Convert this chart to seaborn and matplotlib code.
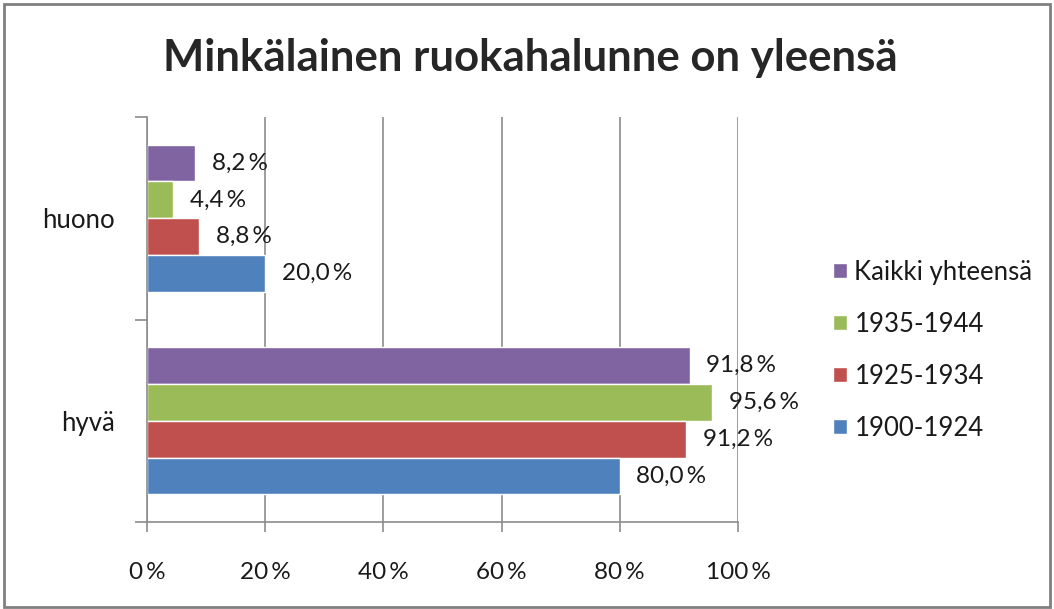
import matplotlib
matplotlib.use("Agg")
import matplotlib.pyplot as plt
import seaborn as sns
import pandas as pd
from matplotlib.patches import Rectangle
from matplotlib.ticker import FixedLocator, FuncFormatter

categories = ["huono", "hyvä"]
series = ["Kaikki yhteensä", "1935-1944", "1925-1934", "1900-1924"]
kaikki = [8.2, 91.8]
s1935_1944 = [4.4, 95.6]
s1925_1934 = [8.8, 91.2]
s1900_1924 = [20.0, 80.0]
colors = ["#8064A2", "#9BBB59", "#C0504D", "#4F81BD"]
x_ticks = [0, 20, 40, 60, 80, 100]

values = [kaikki, s1935_1944, s1925_1934, s1900_1924]
rows = []
for name, vals in zip(series, values):
    for cat, v in zip(categories, vals):
        rows.append({"cat": cat, "series": name, "val": v})
df = pd.DataFrame(rows)

sns.set_style("white")
plt.rcParams["font.family"] = ["Lato", "DejaVu Sans"]

fig = plt.figure(figsize=(10.54, 6.09), dpi=100)
ax = fig.add_axes([147/1054, 1-522/609, (738-147)/1054, (522-117)/609])

sns.barplot(data=df, y="cat", x="val", hue="series", order=categories,
            hue_order=series, palette=colors, orient="y", width=0.726,
            saturation=1, ax=ax, legend=True, errorbar=None)

for cont, vals in zip(ax.containers, values):
    labs = [f"{v:.1f}\u2009%".replace(".", ",") for v in vals]
    ax.bar_label(cont, labels=labs, padding=12, fontsize=17.5, color="#1a1a1a")

ax.set_xlim(0, 100)
ax.set_ylim(1.5, -0.5)
ax.set_xticks(x_ticks)
ax.xaxis.set_major_formatter(FuncFormatter(lambda v, p: f"{int(v)}\u2009%"))
ax.grid(axis="x", color="#8c8c8c", linewidth=1.2)
ax.set_axisbelow(True)
ax.set_xlabel("")
ax.set_ylabel("")
for s in ["top", "right"]:
    ax.spines[s].set_visible(False)
for s in ["left", "bottom"]:
    ax.spines[s].set_color("#8c8c8c")
    ax.spines[s].set_linewidth(1.2)
ax.tick_params(axis="x", which="major", length=7, color="#8c8c8c", width=1.2,
               labelsize=17.5, pad=22, direction="out", bottom=True)
ax.set_yticks([0, 1])
ax.set_yticklabels(categories, fontsize=18.5, color="#1a1a1a")
ax.tick_params(axis="y", which="major", length=0, pad=23)
ax.yaxis.set_minor_locator(FixedLocator([-0.5, 0.5, 1.5]))
ax.tick_params(axis="y", which="minor", length=9, color="#8c8c8c", width=1.2, left=True)
for lab in ax.get_xticklabels():
    lab.set_color("#1a1a1a")

h, l = ax.get_legend_handles_labels()
ax.get_legend().remove()
fig.legend(h, l, loc="center left", bbox_to_anchor=(0.768, 0.425), frameon=False,
           fontsize=18.5, handlelength=0.55, handleheight=0.55, handletextpad=0.3,
           labelspacing=1.05, labelcolor="#1a1a1a")

fig.suptitle("Minkälainen ruokahalunne on yleensä", fontsize=31.5, fontweight="bold",
             y=1-58/609, va="center", x=0.503)

fig.patches.append(Rectangle((0.004, 0.004), 0.992, 0.99, transform=fig.transFigure,
                             fill=False, edgecolor="#808080", linewidth=2))

fig.savefig("out.png", dpi=100)
